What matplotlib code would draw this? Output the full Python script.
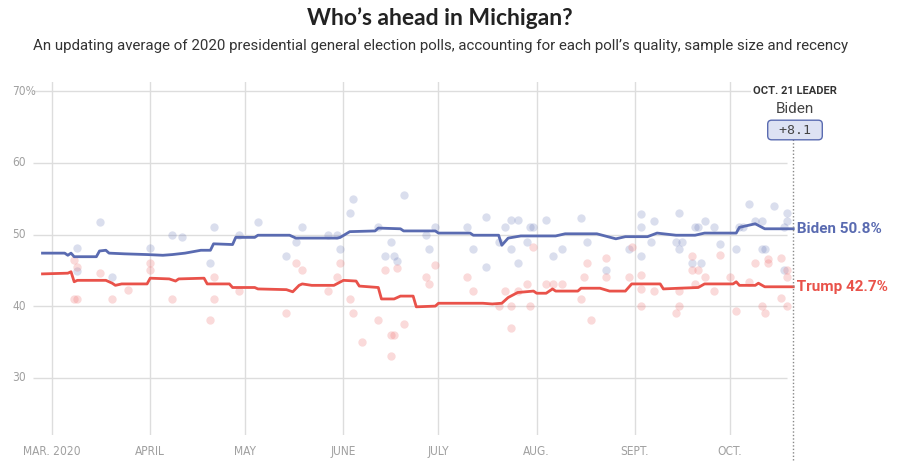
import matplotlib
matplotlib.use("Agg")
import matplotlib.pyplot as plt
import pandas as pd

# ---------------- data ----------------
biden_avg_dates = ["02-27","03-05","03-06","03-07","03-08","03-15","03-16","03-18","03-19","03-24",
                   "03-31","04-05","04-08","04-12","04-17","04-20","04-21","04-27","04-28","05-04",
                   "05-05","05-15","05-17","05-30","05-31","06-03","06-11","06-12","06-19","06-20",
                   "06-30","07-01","07-11","07-12","07-20","07-21","07-23","07-27","08-07","08-10",
                   "08-20","08-26","08-29","09-05","09-08","09-14","09-20","09-23","10-03","10-04",
                   "10-09","10-12","10-21"]
biden_avg = [47.4,47.4,47.1,47.4,46.9,46.9,47.7,47.8,47.4,47.3,
             47.2,47.1,47.2,47.4,47.8,47.8,48.7,48.6,49.6,49.6,
             49.9,49.9,49.5,49.5,49.6,50.4,50.5,50.9,50.8,50.5,
             50.5,50.2,50.2,49.9,49.9,48.5,49.5,49.8,49.8,50.1,
             50.1,49.4,49.7,49.7,50.2,49.9,49.9,50.2,50.2,51.0,
             51.5,50.8,50.8]

trump_avg_dates = ["02-27","03-06","03-07","03-08","03-09","03-18","03-20","03-21","03-23","03-31",
                   "04-01","04-07","04-09","04-10","04-18","04-19","04-26","04-27","05-04","05-05",
                   "05-14","05-16","05-18","05-19","05-22","05-29","06-01","06-05","06-06","06-12",
                   "06-13","06-17","06-19","06-23","06-24","06-30","07-01","07-15","07-18","07-21",
                   "07-23","07-26","07-31","08-01","08-04","08-06","08-07","08-14","08-15","08-21",
                   "08-24","08-29","08-31","09-09","09-10","09-15","09-21","09-23","10-02","10-03",
                   "10-04","10-09","10-10","10-12","10-21"]
trump_avg = [44.5,44.6,44.8,43.4,43.6,43.6,43.2,42.9,43.1,43.1,
             43.9,43.8,43.5,43.8,43.9,43.1,43.1,42.6,42.6,42.4,
             42.3,42.0,42.9,43.1,42.9,42.9,43.6,43.5,42.8,42.6,
             41.0,41.0,41.4,41.4,39.9,40.0,40.4,40.4,40.3,40.4,
             41.2,41.9,42.1,41.8,41.8,42.4,42.1,42.1,42.5,42.5,
             42.1,42.1,43.1,43.1,42.4,42.5,42.6,43.1,43.1,43.4,
             42.9,42.9,43.2,42.7,42.7]

biden_poll_dates = ["03-09","03-16","03-09","03-20","04-01","04-08","04-11","04-20","04-21","04-29",
                    "05-05","05-14","05-17","05-19","05-27","05-30","06-04","06-03","05-31","06-12",
                    "06-16","06-14","06-17","06-18","06-20","06-27","06-28","06-30","07-10","07-12",
                    "07-16","07-16","07-20","07-22","07-24","07-26","07-24","07-26","07-30","07-31",
                    "07-29","08-04","08-06","08-09","08-15","08-17","08-23","08-30","09-03","09-03",
                    "09-03","09-07","09-06","09-15","09-14","09-16","09-15","09-19","09-22","09-20",
                    "09-21","09-23","09-26","09-28","10-03","10-04","10-05","10-07","10-09","10-11",
                    "10-11","10-12","10-15","10-18","10-18","10-19","10-19"]
biden_polls = [48.1,51.8,44.9,44.1,48.1,50.0,49.7,46.0,51.0,50.0,
               51.8,47.0,49.0,51.0,50.0,50.0,55.0,53.0,48.0,51.1,
               49.0,47.0,47.0,46.3,55.5,50.0,48.0,51.1,51.1,48.0,
               52.5,45.4,49.0,51.1,52.0,52.0,48.0,46.0,51.1,51.1,
               49.0,52.0,47.0,48.0,52.3,49.0,45.1,48.0,52.9,51.1,
               47.0,51.9,49.0,53.0,49.0,49.0,48.0,46.0,46.0,51.1,
               51.1,51.9,51.1,48.7,48.0,51.1,51.1,54.3,51.9,51.9,
               48.0,48.0,54.0,45.0,51.1,51.9,53.0]

trump_poll_dates = ["03-08","03-09","03-08","03-09","03-16","03-20","03-25","04-01","04-01","04-08",
                    "04-21","04-21","04-20","04-29","05-14","05-17","05-19","05-31","05-30","05-27",
                    "06-03","06-04","06-07","06-12","06-14","06-18","06-16","06-17","06-16","06-20",
                    "06-27","06-28","06-30","07-10","07-12","07-20","07-22","07-24","07-24","07-26",
                    "07-29","07-30","07-31","08-04","08-06","08-09","08-15","08-16","08-17","08-18",
                    "08-23","08-23","08-30","08-31","09-03","09-03","09-03","09-07","09-15","09-15",
                    "09-14","09-19","09-19","09-21","09-23","09-20","09-26","09-28","10-01","10-03",
                    "10-07","10-09","10-11","10-12","10-13","10-13","10-17","10-17","10-19","10-19",
                    "10-19"]
trump_polls = [46.4,45.5,41.0,41.0,44.6,41.0,42.2,46.0,45.0,41.0,
               44.0,41.0,38.0,42.1,39.0,46.0,45.0,46.0,44.0,42.1,
               41.0,39.0,35.0,38.0,45.0,45.3,36.0,36.0,33.0,37.5,
               44.0,43.1,45.8,44.0,42.1,40.0,42.1,40.0,37.0,42.1,
               43.1,40.0,48.2,43.1,43.1,43.1,41.0,44.0,46.0,38.0,
               46.7,44.0,44.0,48.2,44.3,42.4,40.0,42.1,42.1,40.0,
               39.0,47.0,45.0,45.0,44.0,43.1,42.1,47.1,44.0,39.3,
               43.4,46.0,40.0,39.0,46.6,46.0,46.7,41.1,45.1,44.0,
               40.0]

month_ticks = ["03-01","04-01","05-01","06-01","07-01","08-01","09-01","10-01"]
month_labels = ["MAR. 2020","APRIL","MAY","JUNE","JULY","AUG.","SEPT.","OCT."]
y_ticks = [30, 40, 50, 60, 70]
y_labels = ["30", "40", "50", "60", "70%"]

leader_date = "10-21"
leader_label = "OCT. 21 LEADER"
leader_name = "Biden"
leader_margin = "+8.1"
biden_label = "Biden 50.8%"
trump_label = "Trump 42.7%"

def d(s):
    return pd.to_datetime(["2020-" + x for x in s])

BLUE = "#5a6bb1"
RED = "#e9524a"
GRID = "#dddddd"
TICK = "#a0a0a0"
TICKFONT = dict(family=["DejaVu Sans"], fontstretch="condensed", fontsize=8.6, color=TICK)

fig = plt.figure(figsize=(9, 4.66), dpi=100)
ax = fig.add_axes([33/900, 1-435/466, (798-33)/900, (435-82)/466])

x0 = pd.Timestamp("2020-02-24")
x1 = pd.Timestamp("2020-10-22 12:00")
grid_end = pd.Timestamp("2020-10-19")
ax.set_xlim(x0, x1)
ax.set_ylim(22, 71.3)

for s in ax.spines.values():
    s.set_visible(False)

# gridlines
ax.hlines(y_ticks, x0, grid_end, color=GRID, lw=1, zorder=0)
for t in d(month_ticks):
    ax.axvline(t, color=GRID, lw=1, zorder=0)

ax.set_xticks(d(month_ticks))
ax.set_xticklabels(month_labels, **TICKFONT)
ax.set_yticks([])
ax.tick_params(axis="both", length=0)
ax.tick_params(axis="x", pad=7)
ytrans = ax.get_yaxis_transform()
for v, lab in zip(y_ticks, y_labels):
    ax.text(-0.027, v, lab, transform=ytrans, ha="left", va="center", **TICKFONT)

# poll dots
ax.scatter(d(biden_poll_dates), biden_polls, s=36, color=BLUE, alpha=0.22, lw=0, zorder=1)
ax.scatter(d(trump_poll_dates), trump_polls, s=36, color="#f07a7a", alpha=0.28, lw=0, zorder=1)

# averages
ax.plot(d(biden_avg_dates), biden_avg, color=BLUE, lw=2.0, zorder=3)
ax.plot(d(trump_avg_dates), trump_avg, color=RED, lw=2.0, zorder=3)

# leader dotted line
ld = d([leader_date])[0]
ax.axvline(ld, ymin=-0.07, ymax=0.86, color="#888888", lw=1, ls=(0, (1, 1.5)), clip_on=False, zorder=4)

# end labels
ax.text(ld, biden_avg[-1], " " + biden_label, color=BLUE, fontsize=11, fontweight="bold",
        va="center", ha="left", clip_on=False, family=["Roboto", "DejaVu Sans"])
ax.text(ld, trump_avg[-1], " " + trump_label, color=RED, fontsize=11, fontweight="bold",
        va="center", ha="left", clip_on=False, family=["Roboto", "DejaVu Sans"])

# leader annotation
fig.text(795/900, 1-91/466, leader_label, ha="center", va="center", fontsize=8, fontweight="bold",
         color="#333333", family=["Roboto", "DejaVu Sans"],
         bbox=dict(facecolor="white", edgecolor="none", pad=1.5))
fig.text(795/900, 1-109/466, leader_name, ha="center", va="center", fontsize=11,
         color="#444444", family=["Roboto", "DejaVu Sans"])
fig.text(795/900, 1-130/466, " " + leader_margin + " ", ha="center", va="center", fontsize=9.5,
         color="#444444", family=["DejaVu Sans Mono"], zorder=5,
         bbox=dict(boxstyle="round,pad=0.25,rounding_size=0.3", facecolor="#dde2f3",
                   edgecolor=BLUE, lw=1))

# titles
fig.text(440/900, 1-18/466, "Who’s ahead in Michigan?", ha="center", va="center",
         fontsize=16.5, fontweight="bold", color="#222222", family=["Lato", "DejaVu Sans"])
fig.text(441/900, 1-46/466,
         "An updating average of 2020 presidential general election polls, accounting for each poll’s quality, sample size and recency",
         ha="center", va="center", fontsize=10.8, color="#333333", family=["Roboto", "DejaVu Sans"])

fig.savefig("out.png", dpi=100)
